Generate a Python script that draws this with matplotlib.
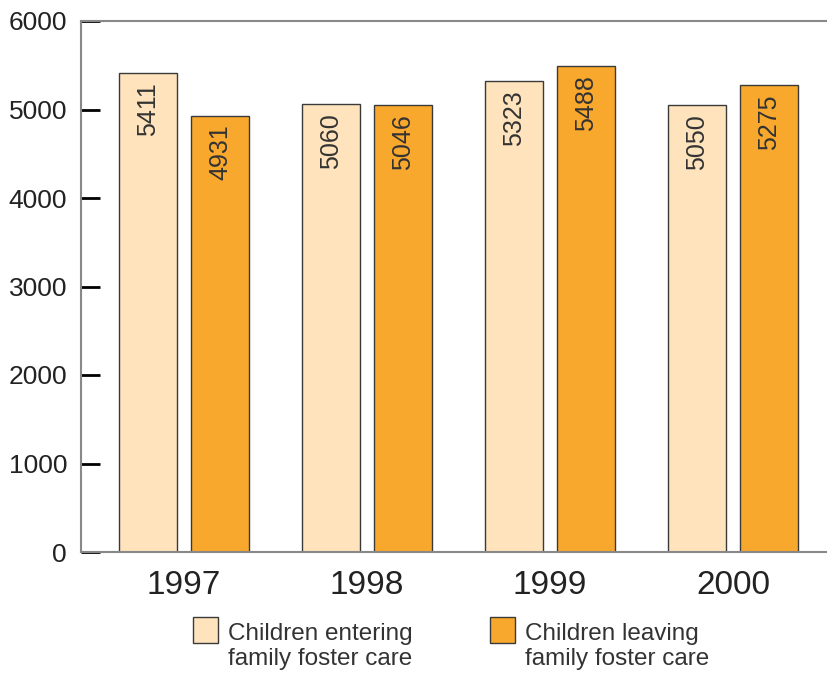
import matplotlib
matplotlib.use("Agg")
import matplotlib.pyplot as plt
import numpy as np
from matplotlib.patches import Rectangle

years = ["1997", "1998", "1999", "2000"]
entering = [5411, 5060, 5323, 5050]
leaving = [4931, 5046, 5488, 5275]
series_labels = ["Children entering\nfamily foster care", "Children leaving\nfamily foster care"]
yticks = [0, 1000, 2000, 3000, 4000, 5000, 6000]

c_enter = "#FEE3BC"
c_leave = "#F9A82E"
edge = "#3a3a3a"
font = "Liberation Sans"
W, H = 828, 677

fig = plt.figure(figsize=(W/100, H/100), dpi=100)
ax = fig.add_axes([81/W, 1-552/H, 1-81/W, (552-21)/H])

x = np.arange(len(years))
w = 0.317
off = 0.197
b1 = ax.bar(x - off, entering, w, color=c_enter, edgecolor=edge, linewidth=1.0, zorder=2)
b2 = ax.bar(x + off, leaving, w, color=c_leave, edgecolor=edge, linewidth=1.0, zorder=2)

for bars, vals in ((b1, entering), (b2, leaving)):
    for r, v in zip(bars, vals):
        ax.text(r.get_x() + r.get_width()/2, v - 100, str(v), rotation=90,
                ha="center", va="top", fontsize=18, color="#333333",
                family=font, zorder=3)

ax.set_xlim(-0.563, 3.519)
ax.set_ylim(0, 6000)
ax.set_yticks(yticks)
ax.set_yticklabels([str(t) for t in yticks], fontsize=19, family=font, color="#222222")
ax.tick_params(axis="y", direction="in", length=14, width=2, color="black", pad=10)
ax.set_xticks(x)
ax.set_xticklabels(years, fontsize=24, family=font, color="#222222")
ax.tick_params(axis="x", length=0, pad=13)

for s in ("left", "bottom", "top"):
    ax.spines[s].set_color("#888888")
    ax.spines[s].set_linewidth(1.5)
ax.spines["right"].set_visible(False)

# legend (manual, figure pixel layout)
leg_items = [(193, c_enter, series_labels[0]), (490, c_leave, series_labels[1])]
for px, col, lab in leg_items:
    fig.add_artist(Rectangle((px/W, 1-643/H), 25/W, 26/H, transform=fig.transFigure,
                             facecolor=col, edgecolor=edge, linewidth=1.0))
    fig.text((px+35)/W, 1-623/H, lab, ha="left", va="top", fontsize=17.5,
             family=font, color="#333333", linespacing=1.15)

fig.savefig("out.png", dpi=100)
